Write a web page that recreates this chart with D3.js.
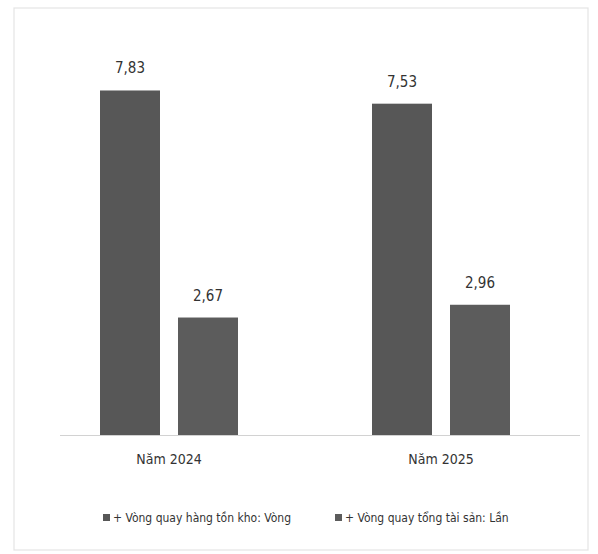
<!DOCTYPE html>
<html>
<head>
<meta charset="utf-8">
<script src="https://cdn.jsdelivr.net/npm/d3@7"></script>
<style>
  html, body { margin: 0; padding: 0; background: #fff; }
  svg { display: block; }
  text { font-family: "Liberation Sans Narrow", "DejaVu Sans Condensed", Arial, sans-serif; fill: #333; }
</style>
</head>
<body>
<svg id="chart" width="598" height="554"></svg>
<script>
const categories = ["Năm 2024", "Năm 2025"];
const seriesNames = ["+ Vòng quay hàng tồn kho: Vòng", "+ Vòng quay tổng tài sản: Lần"];
const inventoryTurnover = [7.83, 7.53];
const assetTurnover = [2.67, 2.96];

const width = 598, height = 554;
const svg = d3.select("#chart");

// faint frame from the scan
svg.append("rect")
  .attr("x", 14).attr("y", 8)
  .attr("width", 574).attr("height", 542)
  .attr("fill", "none")
  .attr("stroke", "#e4e4e4")
  .attr("stroke-width", 1.2);

const x0 = d3.scaleBand().domain(categories).range([33, 577]);
const x1 = d3.scaleBand().domain([0, 1]).range([0, x0.bandwidth()])
  .paddingInner(0.231).paddingOuter(0.859);
const y = d3.scaleLinear().domain([0, 9]).range([435, 39]);

const rows = categories.map((c, i) => ({
  cat: c,
  vals: [inventoryTurnover[i], assetTurnover[i]]
}));

const fmt = v => d3.format(".2f")(v).replace(".", ",");
const colors = ["#575757", "#5c5c5c"];

const g = svg.append("g");

// baseline
g.append("line")
  .attr("x1", 60).attr("x2", 580)
  .attr("y1", y(0) + 0.5).attr("y2", y(0) + 0.5)
  .attr("stroke", "#d2d2d2")
  .attr("stroke-width", 1.2);

const grp = g.selectAll(".cat").data(rows).enter().append("g")
  .attr("class", "cat")
  .attr("transform", d => `translate(${x0(d.cat)},0)`);

grp.selectAll("rect")
  .data(d => d.vals.map((v, j) => ({ v, j })))
  .enter().append("rect")
  .attr("x", d => x1(d.j))
  .attr("y", d => y(d.v))
  .attr("width", x1.bandwidth())
  .attr("height", d => y(0) - y(d.v))
  .attr("fill", d => colors[d.j]);

grp.selectAll(".val")
  .data(d => d.vals.map((v, j) => ({ v, j })))
  .enter().append("text")
  .attr("class", "val")
  .attr("x", d => x1(d.j) + x1.bandwidth() / 2)
  .attr("y", d => y(d.v) - 17)
  .attr("text-anchor", "middle")
  .style("font-size", "15px")
  .text(d => fmt(d.v));

// category labels
const xAxis = d3.axisBottom(x0).tickSize(0).tickPadding(0);
const ax = svg.append("g").attr("transform", `translate(0,${y(0) + 24})`).call(xAxis);
ax.select(".domain").remove();
ax.selectAll("text")
  .style("font-size", "14px")
  .attr("fill", "#333")
  .attr("dy", "0.35em");

// legend
const legendX = [103, 335];
const leg = svg.append("g").selectAll("g").data(seriesNames).enter().append("g")
  .attr("transform", (d, i) => `translate(${legendX[i]},518)`);
leg.append("rect")
  .attr("x", 0).attr("y", -4)
  .attr("width", 7).attr("height", 7)
  .attr("fill", (d, i) => colors[i]);
leg.append("text")
  .attr("x", 10).attr("y", 0)
  .attr("dy", "0.35em")
  .style("font-size", "12px")
  .text(d => d);
</script>
</body>
</html>
